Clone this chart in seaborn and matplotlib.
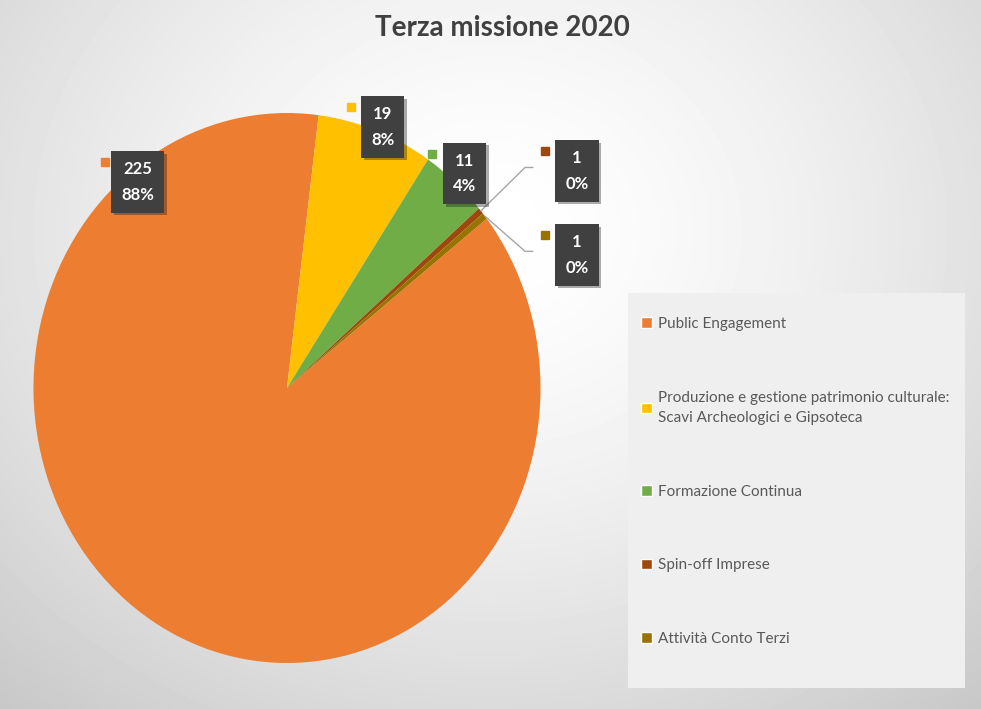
import numpy as np
import matplotlib
matplotlib.use("Agg")
import matplotlib.pyplot as plt
import matplotlib.transforms as mtransforms
from matplotlib.patches import Patch, Rectangle
from matplotlib.patheffects import SimplePatchShadow, Normal
import seaborn as sns

# --- dati ---
categorie = [
    "Public Engagement",
    "Produzione e gestione patrimonio culturale:\nScavi Archeologici e Gipsoteca",
    "Formazione Continua",
    "Spin-off Imprese",
    "Attività Conto Terzi",
]
valori = [225, 19, 11, 1, 1]
percentuali = ["88%", "8%", "4%", "0%", "0%"]
colori = sns.color_palette(["#ED7D31", "#FFC000", "#70AD47", "#9E480E", "#997300"])

# posizione delle etichette (coordinate della torta, raggio = 1)
pos_etichette = [(-0.59, 0.75), (0.377, 0.95), (0.70, 0.78), (1.144, 0.79), (1.144, 0.485)]
con_linea = [False, False, False, True, True]

sns.set_theme(style="white")
plt.rcParams["font.family"] = ["Lato", "DejaVu Sans"]

fig = plt.figure(figsize=(9.81, 7.09), dpi=100)

# sfondo sfumato
bg = fig.add_axes([0, 0, 1, 1], zorder=-10)
yy, xx = np.mgrid[0:709, 0:981]
d = np.sqrt(((xx - 490) / 700.0) ** 2 + ((yy - 230) / 600.0) ** 2)
bg.imshow(1 - 0.2 * d ** 1.5, cmap="gray", vmin=0, vmax=1, aspect="auto")
bg.axis("off")

# torta
ax = fig.add_axes([0.0212, 0.0455, 0.5427, 0.8145])
ax.patch.set_alpha(0)
wedges, _ = ax.pie(valori, colors=colori, startangle=38, counterclock=False,
                   wedgeprops=dict(linewidth=0))
ax.set_aspect("auto")
ax.set_xlim(-1.05, 1.05)
ax.set_ylim(-1.05, 1.05)

marker_trans = mtransforms.offset_copy(ax.transData, fig=fig, x=-32, y=20, units="dots")

for w, val, pct, (lx, ly), col, linea in zip(wedges, valori, percentuali, pos_etichette, colori, con_linea):
    t = ax.text(lx, ly, f"{val}\n{pct}", ha="center", va="center", multialignment="center",
                color="white", fontsize=12, fontweight="bold", linespacing=1.75, zorder=6,
                clip_on=False,
                bbox=dict(boxstyle="square,pad=0.6", fc="#404040", ec="none"))
    t.get_bbox_patch().set_path_effects([SimplePatchShadow(offset=(2, -2), alpha=0.35), Normal()])
    ax.plot([lx], [ly], marker="s", markersize=5.5, color=col, transform=marker_trans,
            clip_on=False, zorder=6)
    if linea:
        mid = np.deg2rad((w.theta1 + w.theta2) / 2)
        ex, ey = np.cos(mid), np.sin(mid)
        ax.plot([ex, lx - 0.205, lx - 0.174], [ey, ly + 0.012, ly + 0.012],
                color="#a6a6a6", lw=1, clip_on=False, zorder=5)

# titolo
fig.text(502 / 981, 1 - 28 / 709, "Terza missione 2020", ha="center", va="center",
         fontsize=20, fontweight="bold", color="#404040")

# legenda
fig.add_artist(Rectangle((628 / 981, 1 - 688 / 709), 337 / 981, 395 / 709,
                         transform=fig.transFigure, fc="#efefef", ec="none", zorder=0))
handles = [Patch(facecolor=c) for c in colori]
leg = fig.legend(handles, categorie, loc="upper left", bbox_to_anchor=(641 / 981, 1 - 317 / 709),
                 frameon=False, fontsize=11, labelspacing=3.9, handlelength=0.7, handleheight=0.7,
                 handletextpad=0.4, borderpad=0, borderaxespad=0, labelcolor="#595959")
for t in leg.get_texts():
    t.set_linespacing(1.6)

fig.savefig("out.png", dpi=100)
